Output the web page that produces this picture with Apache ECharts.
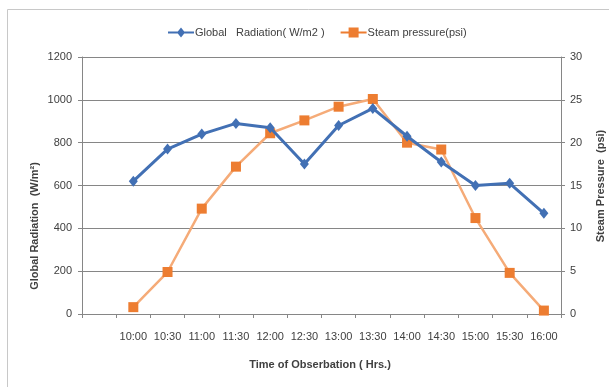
<!DOCTYPE html>
<html>
<head>
<meta charset="utf-8">
<script src="https://cdn.jsdelivr.net/npm/echarts@6/dist/echarts.min.js"></script>
<style>
  html, body { margin: 0; padding: 0; background: #ffffff; }
  #chart { width: 609px; height: 387px; }
</style>
</head>
<body>
<div id="chart"></div>
<script>
// Observation times (first slot is an empty leading category)
var times = ['', '10:00', '10:30', '11:00', '11:30', '12:00', '12:30', '13:00',
             '13:30', '14:00', '14:30', '15:00', '15:30', '16:00'];

// Global radiation, W/m2
var radiation = [null, 620, 770, 840, 890, 870, 700, 880, 960, 830, 710, 600, 610, 470];

// Steam pressure, psi
var steamPressure = [null, 0.8, 4.9, 12.3, 17.2, 21.1, 22.6, 24.2, 25.1, 20.0, 19.2, 11.2, 4.8, 0.4];

var leftTicks = { min: 0, max: 1200, interval: 200 };
var rightTicks = { min: 0, max: 30, interval: 5 };

var FONT = '"Liberation Sans", Arial, sans-serif';
var TEXT = '#404040';
var LINE = '#868686';
var BLUE = '#4270b4';
var ORANGE = '#ed7d31';
var PEACH = '#f5ab78';

var chart = echarts.init(document.getElementById('chart'), null, { renderer: 'canvas' });

function plain(v) { return String(v); }

chart.setOption({
  backgroundColor: '#ffffff',
  animation: false,
  textStyle: { fontFamily: FONT },
  legend: {
    top: 22,
    left: 163,
    itemWidth: 26,
    itemHeight: 10,
    itemGap: 16,
    textStyle: { fontFamily: FONT, fontSize: 11, color: TEXT, padding: [0, 0, 0, -4] },
    data: [
      { name: 'Global   Radiation( W/m2 )', icon: 'path://M0,4 L26,4 L26,6 L0,6 Z M13,0 L17,5 L13,10 L9,5 Z', itemStyle: { color: BLUE } },
      { name: 'Steam pressure(psi)', icon: 'path://M0,4 L26,4 L26,6 L0,6 Z M8,0 L18,0 L18,10 L8,10 Z', itemStyle: { color: ORANGE } }
    ]
  },
  grid: { left: 82, right: 48, top: 57, bottom: 73 },
  xAxis: {
    type: 'category',
    data: times,
    boundaryGap: true,
    axisLine: { lineStyle: { color: LINE, width: 1 } },
    axisTick: { show: true, length: 4, lineStyle: { color: LINE }, interval: 0 },
    axisLabel: { interval: 0, margin: 17, fontSize: 11, color: TEXT, fontFamily: FONT }
  },
  yAxis: [
    {
      type: 'value',
      min: leftTicks.min, max: leftTicks.max, interval: leftTicks.interval,
      position: 'left',
      axisLine: { show: true, lineStyle: { color: LINE } },
      axisTick: { show: true, length: 4, lineStyle: { color: LINE } },
      axisLabel: { margin: 10, fontSize: 11, color: TEXT, fontFamily: FONT, formatter: plain },
      splitLine: { show: true, lineStyle: { color: LINE, width: 1 } }
    },
    {
      type: 'value',
      min: rightTicks.min, max: rightTicks.max, interval: rightTicks.interval,
      position: 'right',
      axisLine: { show: true, lineStyle: { color: LINE } },
      axisTick: { show: true, length: 4, lineStyle: { color: LINE } },
      axisLabel: { margin: 9, fontSize: 11, color: TEXT, fontFamily: FONT, formatter: plain },
      splitLine: { show: false }
    }
  ],
  series: [
    {
      name: 'Steam pressure(psi)',
      type: 'line',
      yAxisIndex: 1,
      data: steamPressure,
      symbol: 'rect',
      symbolSize: 10,
      lineStyle: { color: PEACH, width: 2.5 },
      itemStyle: { color: ORANGE, borderWidth: 0 },
      z: 2
    },
    {
      name: 'Global   Radiation( W/m2 )',
      type: 'line',
      yAxisIndex: 0,
      data: radiation,
      symbol: 'diamond',
      symbolSize: [9, 11],
      lineStyle: { color: BLUE, width: 3 },
      itemStyle: { color: BLUE, borderWidth: 0 },
      z: 3
    }
  ],
  graphic: [
    // chart frame
    { type: 'line', shape: { x1: 7.5, y1: 9.5, x2: 609, y2: 9.5 }, style: { stroke: '#c8c8c8', lineWidth: 1 } },
    { type: 'line', shape: { x1: 7.5, y1: 9.5, x2: 7.5, y2: 387 }, style: { stroke: '#c8c8c8', lineWidth: 1 } },
    // axis titles
    {
      type: 'text', x: 35, y: 226, rotation: Math.PI / 2,
      style: { text: 'Global Radiation  (W/m²)', font: 'bold 11px ' + FONT, fill: TEXT, align: 'center', verticalAlign: 'middle' }
    },
    {
      type: 'text', x: 601, y: 186, rotation: Math.PI / 2,
      style: { text: 'Steam Pressure  (psi)', font: 'bold 11px ' + FONT, fill: TEXT, align: 'center', verticalAlign: 'middle' }
    },
    {
      type: 'text', x: 320, y: 365,
      style: { text: 'Time of Obserbation ( Hrs.)', font: 'bold 11px ' + FONT, fill: TEXT, align: 'center', verticalAlign: 'middle' }
    }
  ]
});
</script>
</body>
</html>
